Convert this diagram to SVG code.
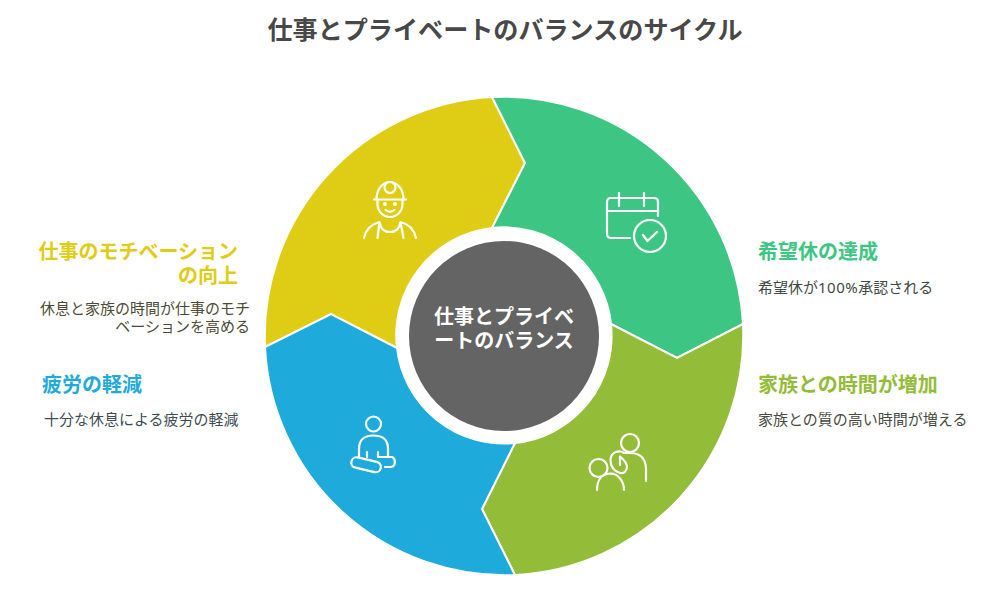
<svg xmlns="http://www.w3.org/2000/svg" width="1008" height="609" viewBox="0 0 1008 609">
<style>
text{font-family:Roboto,"Noto Sans CJK JP","Noto Sans CJK SC",sans-serif}
.seg{stroke:#fff;stroke-width:2;stroke-linejoin:miter}
.ic{fill:none;stroke:#fff;stroke-width:2.200;stroke-linecap:round;stroke-linejoin:round}
.h{font-size:20px;font-weight:700}
.d{font-size:15px}
.n{font-family:"Noto Sans",sans-serif;letter-spacing:.5px}
.e{text-anchor:end}
.c{font-size:20px;font-weight:700;fill:#fff;text-anchor:middle}
</style>
<rect width="1008" height="609" fill="#fff"/>
<text x="505" y="39" font-size="25.100" font-weight="700" fill="#484848" text-anchor="middle">仕事とプライベートのバランスのサイクル</text>
<g id="connectors"></g>
<g id="node-yellow">
<path class="seg" fill="#dfcc14" d="M492 97A240 240 0 0 0 265 347L331 314L397 348A108 108 0 0 1 492 228L525 163Z"/>
<g class="ic"><path d="M374 199.500H406M376.500 199.500C376.500 190 382 182 390 182C398 182 403.500 190 403.500 199.500M377.500 199.500V204A12.500 13 0 0 0 402.500 204V199.500"/><circle cx="390" cy="187.500" r="5.500"/><path d="M385.500 210Q390 213.500 394.500 210M364 238Q367 225 379.500 222Q381 232 390 232Q399 232 400.500 222Q413 225 416 238M377.500 238L379.500 222M403.500 238L400.500 222"/><circle cx="385" cy="204" r=".9"/><circle cx="395" cy="204" r=".9"/></g>
</g>
<g id="node-green">
<path class="seg" fill="#3dc683" d="M492 97A240 240 0 0 1 743 324L677 358L611 324A108 108 0 0 0 492 228L525 163Z"/>
<g class="ic"><path d="M630 238H611Q607 238 607 234V202Q607 198 611 198H654Q658 198 658 202V216M607 211H658M619 193V206M644 193V206"/><circle cx="650" cy="236" r="16"/><path d="M643 235L647.500 241L657 232"/></g>
</g>
<g id="node-olive">
<path class="seg" fill="#93bc39" d="M743 324A240 240 0 0 1 515 575L482 509L515 443A108 108 0 0 0 611 324L677 358Z"/>
<g class="ic"><circle cx="630" cy="443" r="9"/><path d="M646 481V468Q645 453 630 453H624C620 450 611 451 610.500 460C610.500 466 614 471 620 473C625 474 627 470 627 466C626 462 623 459 620 456.500V465"/><circle cx="598.500" cy="468" r="9"/><path d="M597 490C597 481 601 474 610 473.500C618 473.500 624 481 624 490"/></g>
</g>
<g id="node-blue">
<path class="seg" fill="#1faadc" d="M265 347A240 240 0 0 0 515 575L482 509L515 443A108 108 0 0 1 397 348L331 314Z"/>
<g class="ic"><circle cx="373.500" cy="424" r="7.500"/><path d="M359 457V449Q359 435.500 373.500 435.500Q388 435.500 388 449V456M367 452V457M378 452V457H392C396 459 396 466 391 467H385"/><rect x="351" y="459.500" width="30" height="10.500" rx="5.200" transform="rotate(13 366 465)"/></g>
</g>
<g id="node-center">
<circle cx="504" cy="336" r="95" fill="#646464"/>
<text class="c" x="504" y="324">仕事とプライベ<tspan x="504" y="348">ートのバランス</tspan></text>
</g>
<g id="label-green"><text class="h" x="758" y="259" fill="#3dc683">希望休の達成</text><text class="d" x="758" y="293" fill="#3f4a46">希望休が<tspan class="n">100%</tspan>承認される</text></g>
<g id="label-olive"><text class="h" x="758" y="392" fill="#93bc39">家族との時間が増加</text><text class="d" x="758" y="425" fill="#484b40">家族との質の高い時間が増える</text></g>
<g id="label-yellow"><text class="h e" x="238" y="259" fill="#dfcc14">仕事のモチベーション<tspan x="238" y="283">の向上</tspan></text><text class="d e" x="250" y="314" fill="#4d4b38">休息と家族の時間が仕事のモチ<tspan x="250" y="332">ベーションを高める</tspan></text></g>
<g id="label-blue"><text class="h" x="42" y="392" fill="#1faadc">疲労の軽減</text><text class="d" x="44" y="425" fill="#3e4d55">十分な休息による疲労の軽減</text></g>
</svg>
